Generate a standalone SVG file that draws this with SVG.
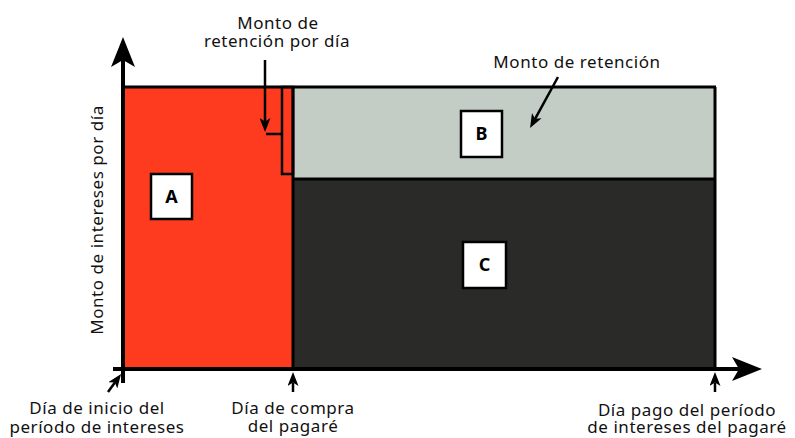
<svg xmlns="http://www.w3.org/2000/svg" width="795" height="438" viewBox="0 0 795 438">
<style>
text{font-family:"Noto Sans","Liberation Sans",sans-serif;font-size:17px;letter-spacing:0.55px;fill:#111;}
.lbl{text-anchor:middle;}
.box{fill:#fff;stroke:#000;stroke-width:2.5;}
.letter{font-weight:bold;font-size:18px;letter-spacing:0;text-anchor:middle;fill:#000;}
.edge{stroke:#000;stroke-width:3;fill:none;}
.axis{stroke:#000;stroke-width:4;fill:none;}
.ptr{stroke:#000;stroke-width:2.5;fill:none;}
</style>
<defs>
<marker id="big" markerUnits="userSpaceOnUse" markerWidth="30" markerHeight="24" refX="7" refY="12" orient="auto">
<path d="M0,0 L30,12 L0,24 L7,12 z" fill="#000"/>
</marker>
<marker id="small" markerUnits="userSpaceOnUse" markerWidth="14" markerHeight="11" refX="3.5" refY="5.5" orient="auto">
<path d="M0,0 L14,5.5 L0,11 L3.5,5.5 z" fill="#000"/>
</marker>
</defs>
<rect width="795" height="438" fill="#fff"/>
<g id="regionA">
<rect x="123" y="87" width="170" height="282" fill="#FF3B1F"/>
</g>
<g id="regionB">
<rect x="293" y="87" width="422" height="92" fill="#C4CDC5"/>
</g>
<g id="regionC">
<rect x="293" y="179" width="422" height="190" fill="#2A2B28"/>
</g>
<g id="frame">
<line class="edge" x1="123" y1="87" x2="716" y2="87"/>
<line class="edge" x1="715" y1="87" x2="715" y2="369"/>
<line class="edge" x1="293" y1="179" x2="715" y2="179"/>
<line class="edge" x1="293" y1="87" x2="293" y2="369"/>
<rect class="ptr" x="282" y="87" width="11" height="87"/>
<line class="ptr" x1="266" y1="134" x2="282" y2="134"/>
</g>
<g id="nodeA">
<rect class="box" x="151" y="174" width="41" height="45"/>
<text class="letter" x="171.5" y="203">A</text>
</g>
<g id="nodeB">
<rect class="box" x="461" y="111" width="41" height="46"/>
<text class="letter" x="481.5" y="140">B</text>
</g>
<g id="nodeC">
<rect class="box" x="463" y="242" width="43" height="46"/>
<text class="letter" x="484.5" y="271">C</text>
</g>
<g id="connectors">
<line class="axis" x1="123" y1="383" x2="123" y2="60" marker-end="url(#big)"/>
<line class="axis" x1="113" y1="369" x2="739" y2="369" marker-end="url(#big)"/>
<line class="ptr" x1="265" y1="60" x2="265" y2="121.5" marker-end="url(#small)"/>
<line class="ptr" x1="558" y1="77" x2="535.1" y2="118.8" marker-end="url(#small)"/>
<line class="ptr" x1="293" y1="392" x2="293" y2="382.5" marker-end="url(#small)"/>
<line class="ptr" x1="715" y1="392" x2="715" y2="382.5" marker-end="url(#small)"/>
<line class="ptr" x1="108" y1="392" x2="114.9" y2="382.5" marker-end="url(#small)"/>
</g>
<g id="labels">
<text class="lbl" x="278" y="29">Monto de</text>
<text class="lbl" x="277" y="47">retención por día</text>
<text class="lbl" x="577" y="68">Monto de retención</text>
<text class="lbl" transform="translate(103,220) rotate(-90)">Monto de intereses por día</text>
<text class="lbl" x="97" y="414">Día de inicio del</text>
<text class="lbl" x="97" y="433">período de intereses</text>
<text class="lbl" x="293" y="414">Día de compra</text>
<text class="lbl" x="293" y="432">del pagaré</text>
<text class="lbl" x="687" y="416">Día pago del período</text>
<text class="lbl" x="687" y="433">de intereses del pagaré</text>
</g>
</svg>
